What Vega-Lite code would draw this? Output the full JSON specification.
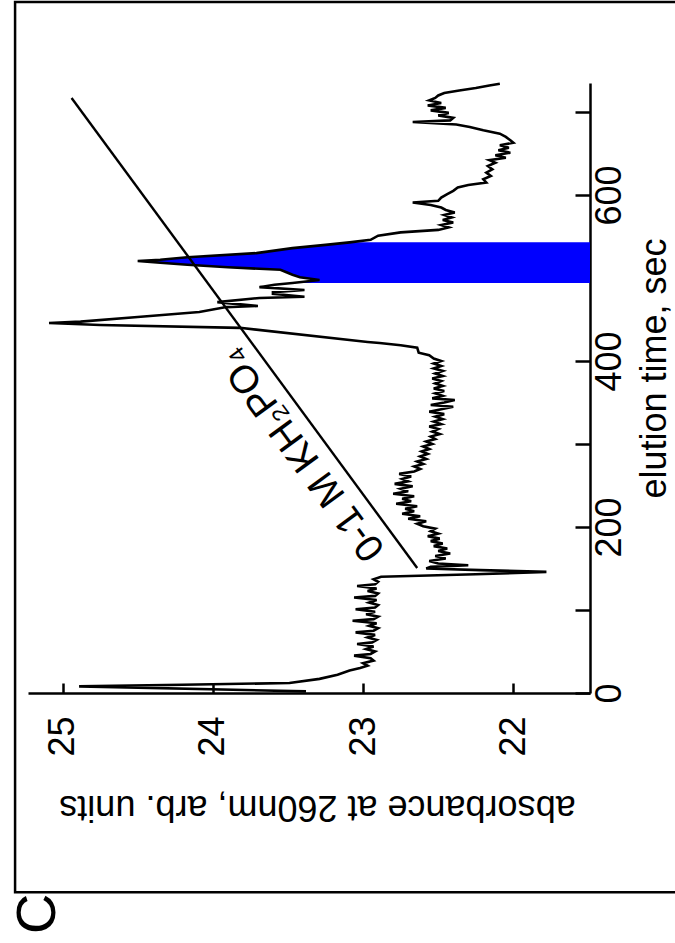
{
  "$schema": "https://vega.github.io/schema/vega-lite/v6.json",
  "autosize": {"type": "none"},
  "padding": {"left": 28, "top": 83, "right": 85, "bottom": 250},
  "width": 562,
  "height": 610,
  "background": "white",
  "config": {
    "view": {"stroke": null},
    "font": "Liberation Sans",
    "axis": {"grid": false, "labelFlush": false, "labelOverlap": false, "domainColor": "black", "tickColor": "black", "labelColor": "black", "titleColor": "black", "titleFontWeight": "normal", "domainWidth": 2.5, "tickWidth": 2.5, "labelFont": "Liberation Sans", "titleFont": "Liberation Sans"}
  },
  "title": {"text": "C", "orient": "bottom", "anchor": "start", "frame": "group", "angle": -90, "align": "right", "baseline": "middle", "fontSize": 56, "font": "Liberation Sans", "fontWeight": "normal", "color": "black", "offset": 0, "dy": 10},
  "datasets": {
    "trace": [
      {"t":2,"a":23.38},{"t":8,"a":24.89},{"t":10,"a":24.2},{"t":12,"a":23.49},{"t":17,"a":23.29},{"t":22,"a":23.17},{"t":27,"a":23.09},
      {"t":30,"a":23.02},{"t":33,"a":22.97},{"t":36,"a":23.0},{"t":39,"a":22.93},{"t":42,"a":22.95},{"t":45,"a":23.06},{"t":47,"a":22.95},{"t":50,"a":22.92},{"t":53,"a":22.98},{"t":56,"a":22.93},{"t":59,"a":23.04},{"t":61,"a":22.94},{"t":64,"a":22.91},{"t":67,"a":22.97},{"t":70,"a":22.92},{"t":73,"a":23.05},{"t":75,"a":22.93},{"t":78,"a":22.9},{"t":81,"a":22.96},{"t":84,"a":22.91},{"t":87,"a":23.07},{"t":89,"a":22.93},{"t":92,"a":22.9},{"t":95,"a":22.98},{"t":98,"a":22.92},{"t":101,"a":23.05},{"t":103,"a":22.92},{"t":106,"a":22.9},{"t":109,"a":22.96},{"t":112,"a":22.91},{"t":115,"a":23.06},{"t":117,"a":22.92},{"t":120,"a":22.9},{"t":123,"a":22.97},{"t":126,"a":22.91},{"t":129,"a":23.04},{"t":131,"a":22.92},{"t":134,"a":22.9},{"t":137,"a":22.93},
      {"t":140,"a":22.88},{"t":143,"a":22.25},{"t":146,"a":21.78},{"t":148,"a":22.22},{"t":150,"a":22.58},{"t":152,"a":22.55},{"t":154,"a":22.3},{"t":156,"a":22.5},{"t":159,"a":22.56},{"t":162,"a":22.45},{"t":165,"a":22.52},{"t":168,"a":22.42},{"t":171,"a":22.5},{"t":174,"a":22.44},{"t":177,"a":22.53},{"t":180,"a":22.47},{"t":183,"a":22.55},{"t":186,"a":22.49},{"t":189,"a":22.57},{"t":192,"a":22.5},{"t":195,"a":22.55},{"t":198,"a":22.52},{"t":201,"a":22.6},{"t":204,"a":22.64},{"t":207,"a":22.58},{"t":210,"a":22.7},{"t":213,"a":22.62},{"t":216,"a":22.74},{"t":219,"a":22.66},{"t":222,"a":22.72},{"t":225,"a":22.64},{"t":228,"a":22.78},{"t":231,"a":22.68},{"t":234,"a":22.74},{"t":237,"a":22.66},{"t":240,"a":22.8},{"t":243,"a":22.7},{"t":246,"a":22.75},{"t":249,"a":22.67},{"t":252,"a":22.79},{"t":255,"a":22.7},{"t":258,"a":22.74},{"t":261,"a":22.68},{"t":264,"a":22.76},{"t":267,"a":22.66},{"t":270,"a":22.62},{"t":273,"a":22.66},{"t":276,"a":22.6},{"t":279,"a":22.64},{"t":282,"a":22.58},{"t":285,"a":22.62},{"t":288,"a":22.57},{"t":291,"a":22.61},{"t":294,"a":22.56},{"t":297,"a":22.6},{"t":300,"a":22.54},{"t":303,"a":22.58},{"t":306,"a":22.52},{"t":309,"a":22.55},{"t":312,"a":22.49},{"t":315,"a":22.54},{"t":318,"a":22.5},{"t":321,"a":22.56},{"t":324,"a":22.48},{"t":327,"a":22.53},{"t":330,"a":22.47},{"t":333,"a":22.52},{"t":336,"a":22.46},{"t":339,"a":22.56},{"t":342,"a":22.48},{"t":345,"a":22.4},{"t":347,"a":22.55},{"t":350,"a":22.46},{"t":353,"a":22.39},{"t":355,"a":22.54},{"t":358,"a":22.47},{"t":361,"a":22.52},{"t":364,"a":22.46},{"t":367,"a":22.53},{"t":370,"a":22.47},{"t":373,"a":22.52},{"t":376,"a":22.48},{"t":379,"a":22.54},{"t":382,"a":22.47},{"t":385,"a":22.52},{"t":388,"a":22.47},{"t":391,"a":22.53},{"t":394,"a":22.48},{"t":397,"a":22.53},{"t":400,"a":22.48},{"t":403,"a":22.53},{"t":407,"a":22.56},{"t":410,"a":22.63},{"t":416,"a":22.64},{"t":419,"a":22.75},{"t":421.7,"a":22.89},{"t":423,"a":22.97},{"t":440,"a":23.82},{"t":443.4,"a":24.75},{"t":445.8,"a":25.09},
      {"t":447.5,"a":24.88},{"t":453,"a":24.5},{"t":459,"a":24.09},{"t":465,"a":23.91},{"t":466.3,"a":23.7},{"t":471,"a":23.97},{"t":476,"a":23.69},{"t":477.5,"a":23.39},{"t":481,"a":23.6},{"t":483,"a":23.6},{"t":485.5,"a":23.39},{"t":489,"a":23.69},{"t":492,"a":23.59},{"t":494,"a":23.47},{"t":497.6,"a":23.29},{"t":501,"a":23.42},{"t":504,"a":23.47},{"t":507,"a":23.51},{"t":510,"a":23.55},{"t":513,"a":23.9},{"t":516,"a":24.17},{"t":518.5,"a":24.35},{"t":520.5,"a":24.5},{"t":522,"a":24.35},{"t":525,"a":24.17},{"t":530,"a":23.71},{"t":536,"a":23.47},{"t":540,"a":23.25},{"t":543,"a":23.09},
      {"t":546,"a":22.95},{"t":551,"a":22.9},{"t":555,"a":22.75},{"t":558,"a":22.5},{"t":561,"a":22.43},{"t":564,"a":22.48},{"t":567,"a":22.4},{"t":570,"a":22.47},{"t":573,"a":22.41},{"t":576,"a":22.46},{"t":579,"a":22.39},{"t":582,"a":22.45},{"t":585,"a":22.48},{"t":588,"a":22.55},{"t":591,"a":22.67},{"t":593,"a":22.5},{"t":597,"a":22.48},{"t":601,"a":22.44},{"t":605,"a":22.4},{"t":609,"a":22.37},{"t":612,"a":22.3},{"t":615,"a":22.18},{"t":619,"a":22.2},{"t":623,"a":22.15},{"t":627,"a":22.18},{"t":631,"a":22.14},{"t":635,"a":22.17},{"t":639,"a":22.12},{"t":642,"a":22.16},{"t":645,"a":22.05},{"t":648,"a":22.12},{"t":651,"a":22.02},{"t":654,"a":22.1},{"t":657,"a":22.03},{"t":660,"a":22.09},{"t":663,"a":22.0},{"t":666,"a":22.02},{"t":670,"a":22.05},{"t":674,"a":22.09},{"t":678,"a":22.2},{"t":682,"a":22.29},{"t":685,"a":22.38},{"t":688,"a":22.67},{"t":690,"a":22.42},{"t":693,"a":22.4},{"t":696,"a":22.5},{"t":699,"a":22.43},{"t":702,"a":22.55},{"t":705,"a":22.45},{"t":708,"a":22.57},{"t":711,"a":22.48},{"t":714,"a":22.56},{"t":717,"a":22.52},{"t":720,"a":22.5},{"t":723,"a":22.46},{"t":726,"a":22.36},{"t":729,"a":22.25},{"t":732,"a":22.16},{"t":734,"a":22.09}
    ],
    "gradient": [{"t": 150.6, "a": 22.64}, {"t": 717, "a": 24.94}],
    "label": [{"t": 305.5, "a": 23.27, "text": "0-1 M KH₂PO₄"}],
    "frame": [{"name": "panel C"}]
  },
  "layer": [
    {
      "data": {"name": "frame"},
      "mark": {"type": "rect", "filled": false, "color": "black", "strokeWidth": 2.5, "clip": false},
      "encoding": {
        "x": {"datum": 25.316, "type": "quantitative", "scale": {"domain": [21.49, 25.23], "reverse": true, "nice": false, "zero": false}},
        "x2": {"datum": 20.8},
        "y": {"datum": -240, "type": "quantitative", "scale": {"domain": [0, 735], "nice": false, "zero": false}},
        "y2": {"datum": 832.5}
      }
    },
    {
      "data": {"name": "trace"},
      "transform": [{"filter": "datum.t >= 494 && datum.t <= 543"}],
      "mark": {"type": "area", "orient": "horizontal", "color": "#0000ff", "opacity": 1},
      "encoding": {
        "x": {"field": "a", "type": "quantitative", "scale": {"domain": [21.49, 25.23], "reverse": true, "nice": false, "zero": false}},
        "x2": {"datum": 21.49},
        "y": {"field": "t", "type": "quantitative", "scale": {"domain": [0, 735], "nice": false, "zero": false}}
      }
    },
    {
      "data": {"name": "trace"},
      "mark": {"type": "line", "color": "black", "strokeWidth": 2.6},
      "encoding": {
        "x": {"field": "a", "type": "quantitative",
          "scale": {"domain": [21.49, 25.23], "reverse": true, "nice": false, "zero": false},
          "axis": {"orient": "bottom", "values": [22, 22.5, 23, 23.5, 24, 24.5, 25], "format": "d",
            "labelExpr": "datum.value % 1 === 0 ? datum.label : ''",
            "labelAngle": -90, "labelAlign": "right", "labelBaseline": "middle", "labelPadding": 33, "tickSize": -10,
            "labelFontSize": 36,
            "title": "absorbance at 260nm, arb. units", "titleFontSize": 36, "titleAngle": 180, "titleAlign": "center", "titleBaseline": "bottom", "titleX": 289, "titleY": 94}},
        "y": {"field": "t", "type": "quantitative",
          "scale": {"domain": [0, 735], "nice": false, "zero": false},
          "axis": {"orient": "right", "values": [0, 100, 200, 300, 400, 500, 600, 700], "format": "d",
            "labelExpr": "datum.value % 200 === 0 ? datum.label : ''",
            "labelAngle": -90, "labelAlign": "center", "labelBaseline": "top", "labelPadding": 17, "tickSize": -15,
            "labelFontSize": 36,
            "title": "elution time, sec", "titleFontSize": 36, "titleAngle": -90, "titleAlign": "center", "titleBaseline": "top", "titleX": 47, "titleY": 285}},
        "order": {"field": "t", "type": "quantitative"}
      }
    },
    {
      "data": {"name": "gradient"},
      "mark": {"type": "line", "color": "black", "strokeWidth": 2.4},
      "encoding": {
        "x": {"field": "a", "type": "quantitative", "scale": {"domain": [21.49, 25.23], "reverse": true, "nice": false, "zero": false}},
        "y": {"field": "t", "type": "quantitative", "scale": {"domain": [0, 735], "nice": false, "zero": false}}
      }
    },
    {
      "data": {"name": "label"},
      "mark": {"type": "text", "angle": -126.4, "align": "center", "baseline": "middle", "dy": -26, "fontSize": 39, "font": "Liberation Sans", "color": "black"},
      "encoding": {
        "x": {"field": "a", "type": "quantitative", "scale": {"domain": [21.49, 25.23], "reverse": true, "nice": false, "zero": false}},
        "y": {"field": "t", "type": "quantitative", "scale": {"domain": [0, 735], "nice": false, "zero": false}},
        "text": {"field": "text"}
      }
    }
  ]
}
